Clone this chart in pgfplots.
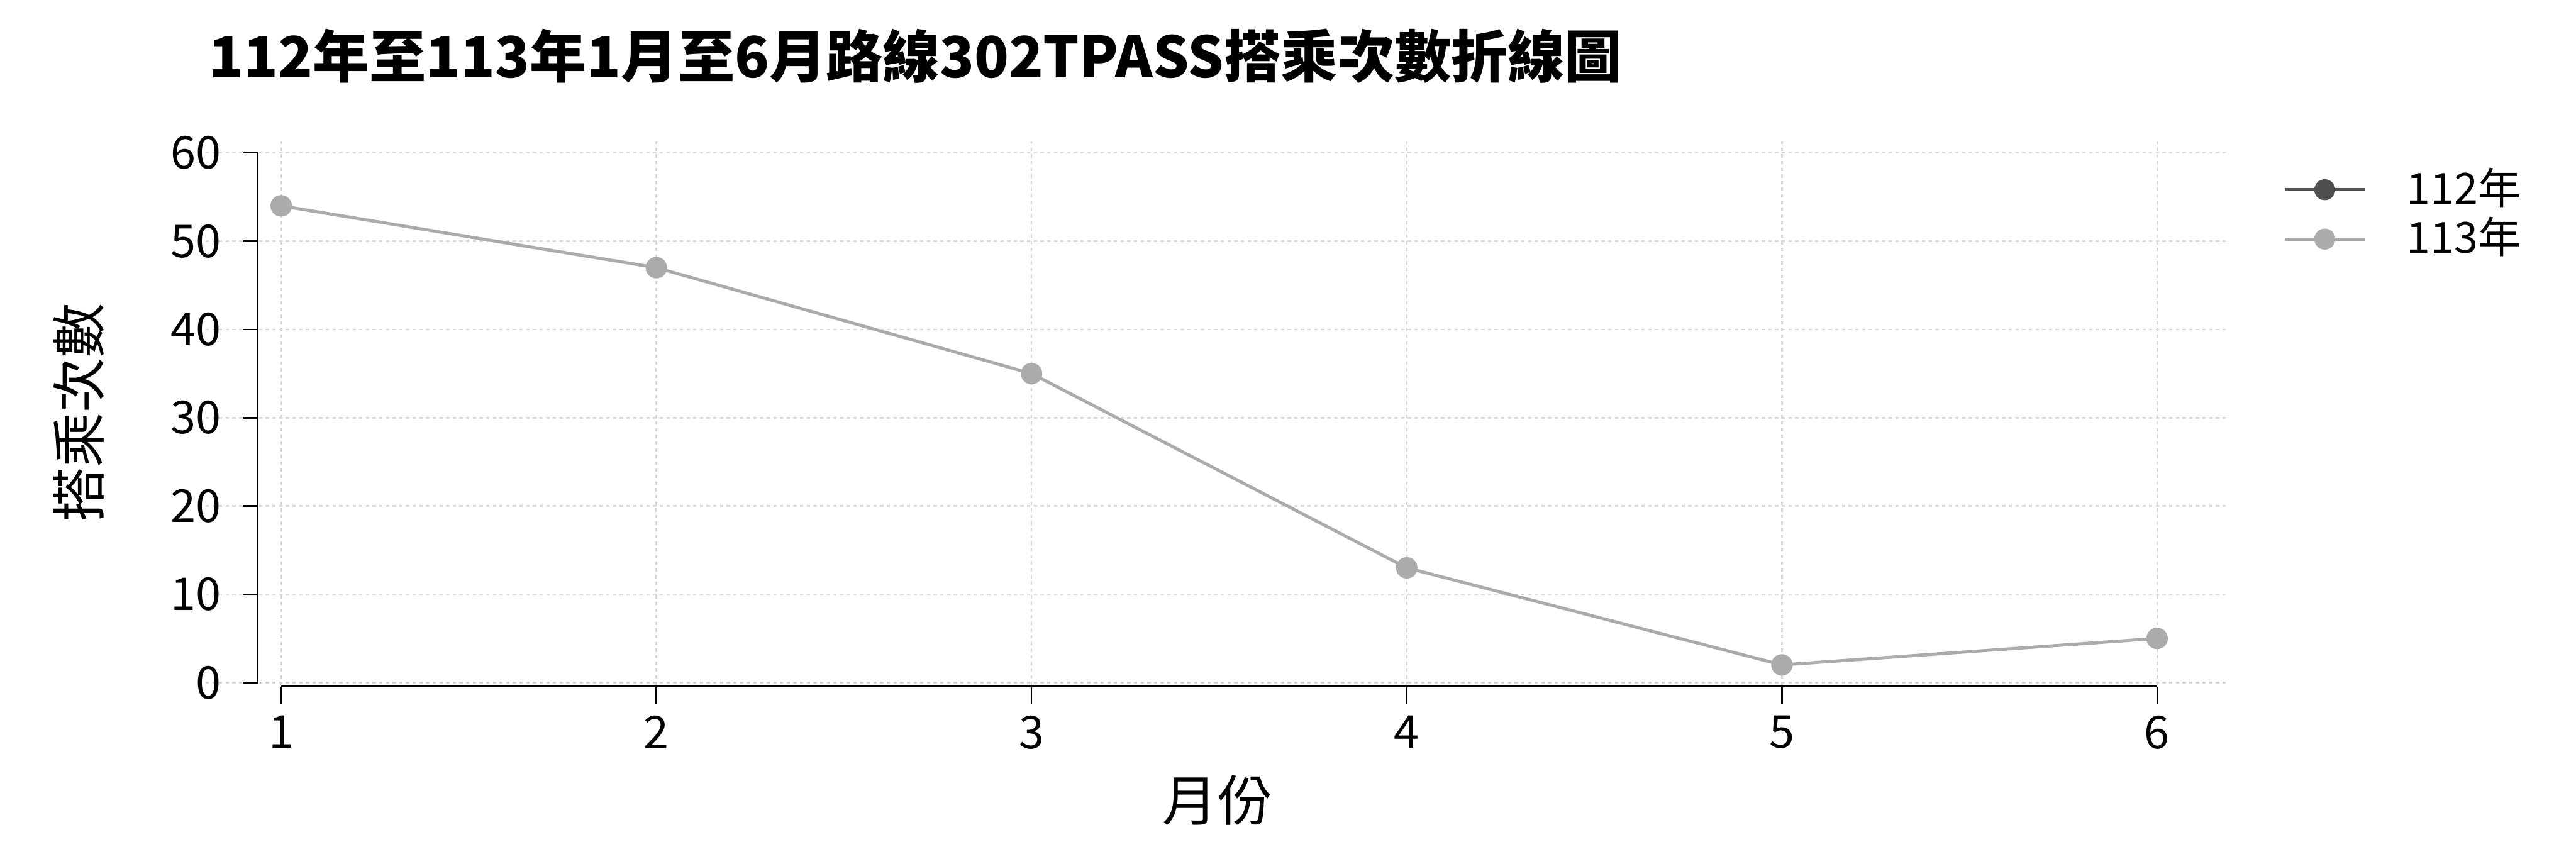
\documentclass[border=0pt]{standalone}
\usepackage{pgfplots}
\pgfplotsset{compat=1.18}
\usepackage{fontspec}
\setmainfont{Noto Sans CJK TC}
\definecolor{cA}{HTML}{4F4F4F}
\definecolor{cB}{HTML}{ABABAB}
\definecolor{gridc}{HTML}{D6D6D6}
\begin{document}
\begin{tikzpicture}
\path[use as bounding box] (0,0) rectangle (1080pt,360pt);
\begin{axis}[
  at={(86.2pt,72.7pt)}, anchor=south west,
  scale only axis, width=847.9pt, height=228pt,
  xmin=0.7986, xmax=6.189, ymin=-0.3, ymax=61.3,
  clip=false,
  axis line style={draw=none},
  major tick length=0pt,
  xtick={1,2,3,4,5,6}, ytick={0,10,20,30,40,50,60},
  xmajorgrids, ymajorgrids,
  grid style={gridc, line width=0.65pt, dash pattern=on 1.4pt off 1.4pt},
  /pgf/number format/assume math mode=true,
  tick label style={font=\fontsize{19}{22}\selectfont, inner sep=0pt},
  yticklabel style={anchor=east, xshift=6.7pt},
  xticklabel style={anchor=north, yshift=-12.7pt},
  title={\bfseries 112年至113年1月至6月路線302TPASS搭乘次數折線圖},
  title style={at={(0.0014,1.1305)}, anchor=west, inner sep=0pt, font=\fontsize{23.8}{28}\selectfont},
  xlabel={月份},
  xlabel style={at={(axis description cs:0.5004,-0.2116)}, anchor=center, inner sep=0pt, font=\fontsize{23}{26}\selectfont},
  ylabel={搭乘次數},
  ylabel style={at={(axis description cs:-0.0626,0.501)}, anchor=center, inner sep=0pt, font=\fontsize{23}{26}\selectfont},
  legend style={draw=none, fill=none, inner sep=0pt, outer sep=0pt,
    at={(1.0272,0.8658)}, anchor=west, legend cell align=left,
    row sep=4.7pt,
    nodes={inner sep=0pt, text height=14pt, text depth=2pt},
    font=\fontsize{18}{21}\selectfont},
  legend image code/.code={
    \draw[#1, mark=none, line width=1.4pt] (0pt,0pt) -- (33.6pt,0pt);
    \fill[#1] (16.8pt,0pt) circle (3.75pt);
    \path (50.5pt,0pt);
  },
]
\addlegendimage{cA, line width=1.3pt}
\addlegendentry{112年}
\addplot[cB, line width=1.3pt, mark=*, mark size=3.84pt, mark options={fill=cB, draw=none}]
  coordinates {(1,54) (2,47) (3,35) (4,13) (5,2) (6,5)};
\addlegendentry{113年}
\draw[black, line width=0.65pt] (axis cs:0.9374,0) -- (axis cs:0.9374,60);
\draw[black, line width=0.65pt] (axis cs:1,-0.435) -- (axis cs:6,-0.435);
\pgfplotsinvokeforeach{0,10,20,30,40,50,60}{
  \draw[black, line width=0.65pt] (axis cs:0.9374,#1) -- ++(-6.2pt,0pt);
}
\pgfplotsinvokeforeach{1,2,3,4,5,6}{
  \draw[black, line width=0.65pt] (axis cs:#1,-0.435) -- ++(0pt,-7.4pt);
}
\end{axis}
\end{tikzpicture}
\end{document}
